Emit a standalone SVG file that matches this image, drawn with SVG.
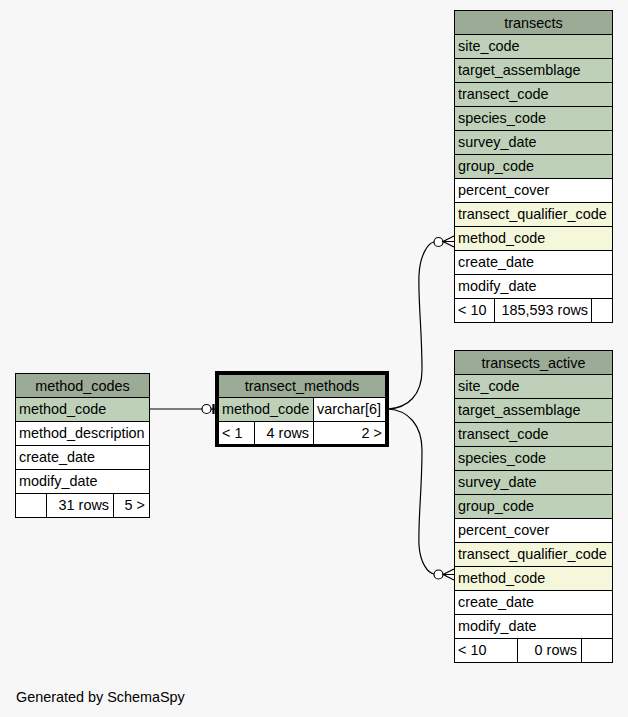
<svg xmlns="http://www.w3.org/2000/svg" width="628" height="717" viewBox="0 0 628 717">
<style>
text{font-family:"Liberation Sans",Arial,sans-serif;font-size:14.4px;fill:#000}
.c{stroke:#000;stroke-width:1}
.h{fill:#9bab96}
.k{fill:#bed1b8}
.i{fill:#f4f7da}
.w{fill:#ffffff}
.m{text-anchor:middle}
.r{text-anchor:end}
.e{fill:none;stroke:#000;stroke-width:1.2}
</style>
<rect width="628" height="717" fill="#f7f7f7"/>
<g id="connectors">
<path class="e" d="M150,409 H202"/>
<circle cx="206.5" cy="409" r="4.5" fill="#fff" stroke="#000" stroke-width="1.2"/>
<line x1="211" y1="409" x2="215" y2="409" stroke="#000" stroke-width="1.2"/>
<line x1="213.5" y1="404" x2="213.5" y2="414" stroke="#000" stroke-width="2.2"/>
<path class="e" d="M388,409 C408,408 422,395 422,370 C422,330 418,300 419,275 C420,255 428,243 434,242"/>
<circle cx="438.5" cy="242" r="4.5" fill="#fff" stroke="#000" stroke-width="1.2"/>
<path class="e" d="M454,236 L443,241.5 L454,247 M443,241.5 H454"/>
<path class="e" d="M388,409 C408,410 422,425 422,450 C422,490 418,520 419,545 C420,563 428,573 434,574"/>
<circle cx="438.5" cy="574.5" r="4.5" fill="#fff" stroke="#000" stroke-width="1.2"/>
<path class="e" d="M454,569 L443,574.5 L454,580 M443,574.5 H454"/>
</g>
<g id="transects">
<rect class="c h" x="454.5" y="10.5" width="158" height="24"/>
<text class="m" x="533.5" y="27.5">transects</text>
<rect class="c k" x="454.5" y="34.5" width="158" height="24"/><text x="458" y="51">site_code</text>
<rect class="c k" x="454.5" y="58.5" width="158" height="24"/><text x="458" y="75">target_assemblage</text>
<rect class="c k" x="454.5" y="82.5" width="158" height="24"/><text x="458" y="99">transect_code</text>
<rect class="c k" x="454.5" y="106.5" width="158" height="24"/><text x="458" y="123">species_code</text>
<rect class="c k" x="454.5" y="130.5" width="158" height="24"/><text x="458" y="147">survey_date</text>
<rect class="c k" x="454.5" y="154.5" width="158" height="24"/><text x="458" y="171">group_code</text>
<rect class="c w" x="454.5" y="178.5" width="158" height="24"/><text x="458" y="195">percent_cover</text>
<rect class="c i" x="454.5" y="202.5" width="158" height="24"/><text x="458" y="219">transect_qualifier_code</text>
<rect class="c i" x="454.5" y="226.5" width="158" height="24"/><text x="458" y="243">method_code</text>
<rect class="c w" x="454.5" y="250.5" width="158" height="24"/><text x="458" y="267">create_date</text>
<rect class="c w" x="454.5" y="274.5" width="158" height="24"/><text x="458" y="291">modify_date</text>
<rect class="c w" x="454.5" y="298.5" width="40" height="24"/><text x="458" y="315">&lt; 10</text>
<rect class="c w" x="494.5" y="298.5" width="97" height="24"/><text class="r" x="588" y="315">185,593 rows</text>
<rect class="c w" x="591.5" y="298.5" width="21" height="24"/>
</g>
<g id="transects_active">
<rect class="c h" x="454.5" y="350.5" width="158" height="24"/>
<text class="m" x="533.5" y="367.5">transects_active</text>
<rect class="c k" x="454.5" y="374.5" width="158" height="24"/><text x="458" y="391">site_code</text>
<rect class="c k" x="454.5" y="398.5" width="158" height="24"/><text x="458" y="415">target_assemblage</text>
<rect class="c k" x="454.5" y="422.5" width="158" height="24"/><text x="458" y="439">transect_code</text>
<rect class="c k" x="454.5" y="446.5" width="158" height="24"/><text x="458" y="463">species_code</text>
<rect class="c k" x="454.5" y="470.5" width="158" height="24"/><text x="458" y="487">survey_date</text>
<rect class="c k" x="454.5" y="494.5" width="158" height="24"/><text x="458" y="511">group_code</text>
<rect class="c w" x="454.5" y="518.5" width="158" height="24"/><text x="458" y="535">percent_cover</text>
<rect class="c i" x="454.5" y="542.5" width="158" height="24"/><text x="458" y="559">transect_qualifier_code</text>
<rect class="c i" x="454.5" y="566.5" width="158" height="24"/><text x="458" y="583">method_code</text>
<rect class="c w" x="454.5" y="590.5" width="158" height="24"/><text x="458" y="607">create_date</text>
<rect class="c w" x="454.5" y="614.5" width="158" height="24"/><text x="458" y="631">modify_date</text>
<rect class="c w" x="454.5" y="638.5" width="63" height="24"/><text x="458" y="655">&lt; 10</text>
<rect class="c w" x="517.5" y="638.5" width="64" height="24"/><text class="r" x="577" y="655">0 rows</text>
<rect class="c w" x="581.5" y="638.5" width="31" height="24"/>
</g>
<g id="method_codes">
<rect class="c h" x="15.5" y="373.5" width="134" height="24"/>
<text class="m" x="82.5" y="390.5">method_codes</text>
<rect class="c k" x="15.5" y="397.5" width="134" height="24"/><text x="19" y="414">method_code</text>
<rect class="c w" x="15.5" y="421.5" width="134" height="24"/><text x="19" y="438">method_description</text>
<rect class="c w" x="15.5" y="445.5" width="134" height="24"/><text x="19" y="462">create_date</text>
<rect class="c w" x="15.5" y="469.5" width="134" height="24"/><text x="19" y="486">modify_date</text>
<rect class="c w" x="15.5" y="493.5" width="31" height="24"/>
<rect class="c w" x="46.5" y="493.5" width="67" height="24"/><text class="r" x="109" y="510">31 rows</text>
<rect class="c w" x="113.5" y="493.5" width="36" height="24"/><text class="r" x="145" y="510">5 &gt;</text>
</g>
<g id="transect_methods">
<rect x="216.5" y="372.5" width="171" height="73" fill="#fff" stroke="#000" stroke-width="3"/>
<rect class="c h" x="218.5" y="374.5" width="167" height="23"/>
<text class="m" x="302" y="391">transect_methods</text>
<rect class="c k" x="218.5" y="397.5" width="95" height="24"/><text x="222" y="414">method_code</text>
<rect class="c w" x="313.5" y="397.5" width="72" height="24"/><text x="317" y="414">varchar[6]</text>
<rect class="c w" x="218.5" y="421.5" width="36" height="23"/><text x="222" y="437.5">&lt; 1</text>
<rect class="c w" x="254.5" y="421.5" width="59" height="23"/><text class="r" x="309" y="437.5">4 rows</text>
<rect class="c w" x="313.5" y="421.5" width="72" height="23"/><text class="r" x="382" y="437.5">2 &gt;</text>
</g>
<text x="16" y="702">Generated by SchemaSpy</text>
</svg>
